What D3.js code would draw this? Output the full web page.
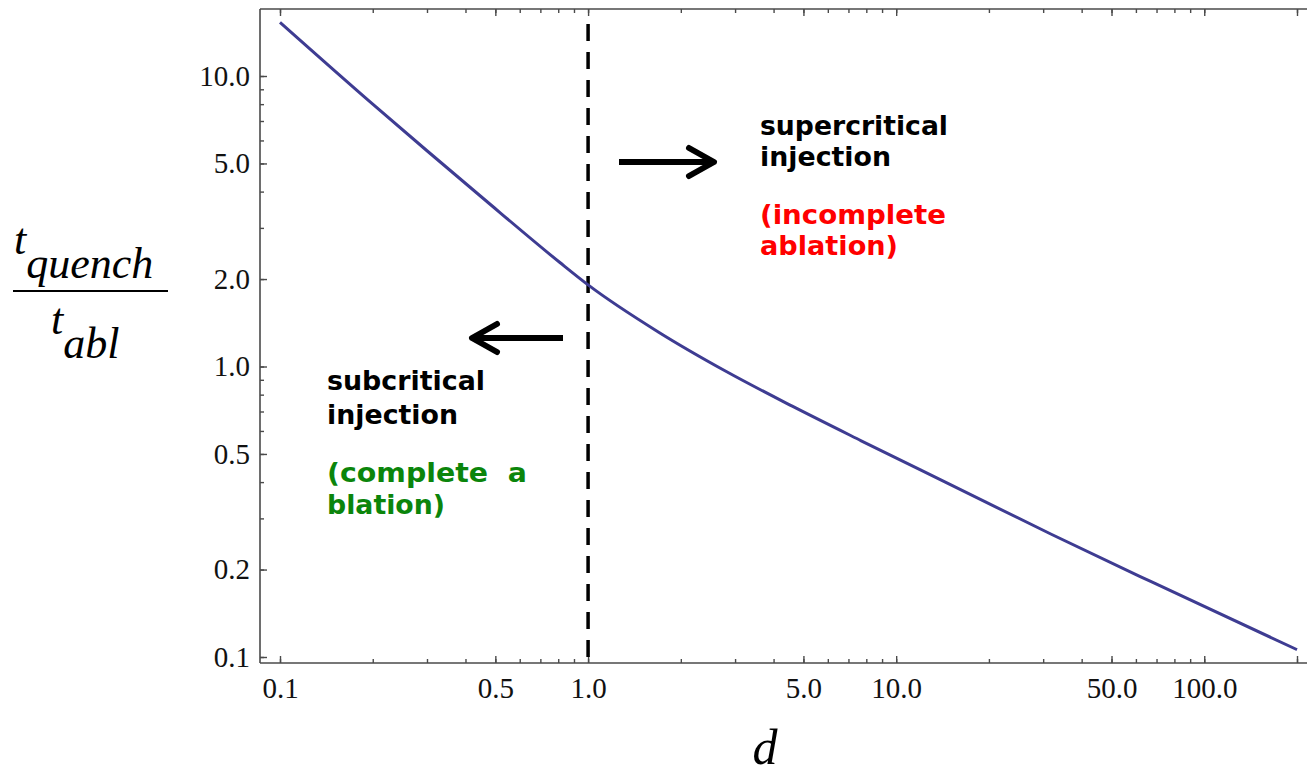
<!DOCTYPE html>
<html lang="en">
	<head>
		<meta charset="UTF-8" />
		<title>t_quench / t_abl vs d</title>
		<style>
			body { margin: 0; background: #fff; }
			svg { display: block; }
		</style>
	</head>
	<body>
		<svg width="1307" height="777" id="svg"></svg>
		<script src="https://cdn.jsdelivr.net/npm/d3@7"></script>
		<script>
			// values
			const dValues = [0.1, 0.2, 0.3, 0.45, 0.81, 1.0, 1.7, 2.8, 4.6, 7.7, 15, 32, 67, 200]
			const ratioValues = [15.3, 8.0, 5.53, 3.84, 2.28, 1.91, 1.31, 0.963, 0.73, 0.555, 0.392, 0.264, 0.182, 0.106]
			const xTickLabels = [0.1, 0.5, 1, 5, 10, 50, 100]
			const yTickLabels = [0.1, 0.2, 0.5, 1, 2, 5, 10]
			const dCritical = 1
			const dashedSpan = [0.1, 16]

			const svg = d3.select("#svg")
			const width = +svg.attr("width")
			const height = +svg.attr("height")

			// frame of the plot area (right edge runs off the picture)
			const frame = { left: 260, top: 9, bottom: 663, right: width + 10 }

			const x = d3.scaleLog().domain([0.1, 200]).range([280, 1297])
			const y = d3.scaleLog().domain([0.1, 10]).range([657, 76])

			// minor ticks: every integer multiple inside each decade
			const minorX = []
			for (let p = -1; p <= 2; p++) {
				for (let m = 1; m <= 9; m++) {
					const v = m * Math.pow(10, p)
					if (v <= 200.0001) minorX.push(+v.toPrecision(3))
				}
			}
			const minorY = []
			for (let p = -1; p <= 1; p++) {
				for (let m = 1; m <= 9; m++) {
					const v = m * Math.pow(10, p)
					if (y(v) >= frame.top) minorY.push(+v.toPrecision(3))
				}
			}

			const fmt = d3.format(".1f")
			const tickFont = "'Liberation Serif', 'Times New Roman', serif"
			const axisColor = "#4a4a4a"

			// frame lines
			const frameG = svg.append("g").attr("stroke", axisColor).attr("stroke-width", 1.6)
			frameG.append("line").attr("x1", frame.left).attr("x2", frame.left).attr("y1", frame.top).attr("y2", frame.bottom)
			frameG.append("line").attr("x1", frame.left).attr("x2", frame.right).attr("y1", frame.bottom).attr("y2", frame.bottom)
			frameG.append("line").attr("x1", frame.left).attr("x2", frame.right).attr("y1", frame.top).attr("y2", frame.top)

			function styleAxis(g) {
				g.select(".domain").remove()
				g.selectAll(".tick line").attr("stroke", axisColor).attr("stroke-width", 1.4)
				g.selectAll(".tick text")
					.attr("fill", "#111")
					.attr("font-family", tickFont)
					.attr("font-size", 29)
			}

			// bottom axis: minor then labelled ticks (inward)
			svg.append("g")
				.attr("transform", `translate(0,${frame.bottom})`)
				.call(d3.axisBottom(x).tickValues(minorX).tickSize(-4).tickSizeOuter(0).tickFormat(""))
				.call(styleAxis)
			svg.append("g")
				.attr("transform", `translate(0,${frame.bottom})`)
				.call(d3.axisBottom(x).tickValues(xTickLabels.concat([200])).tickSize(-7).tickSizeOuter(0).tickPadding(14)
					.tickFormat((d) => (xTickLabels.includes(d) ? fmt(d) : "")))
				.call(styleAxis)

			// top axis: ticks only
			svg.append("g")
				.attr("transform", `translate(0,${frame.top})`)
				.call(d3.axisTop(x).tickValues(minorX).tickSize(-4).tickSizeOuter(0).tickFormat(""))
				.call(styleAxis)
			svg.append("g")
				.attr("transform", `translate(0,${frame.top})`)
				.call(d3.axisTop(x).tickValues(xTickLabels.concat([200])).tickSize(-7).tickSizeOuter(0).tickFormat(""))
				.call(styleAxis)

			// left axis
			svg.append("g")
				.attr("transform", `translate(${frame.left},0)`)
				.call(d3.axisLeft(y).tickValues(minorY).tickSize(-4).tickSizeOuter(0).tickFormat(""))
				.call(styleAxis)
			svg.append("g")
				.attr("transform", `translate(${frame.left},0)`)
				.call(d3.axisLeft(y).tickValues(yTickLabels).tickSize(-7).tickSizeOuter(0).tickPadding(10).tickFormat(fmt))
				.call(styleAxis)

			// critical line
			svg.append("line")
				.attr("x1", x(dCritical))
				.attr("x2", x(dCritical))
				.attr("y1", y(dashedSpan[0]))
				.attr("y2", y(dashedSpan[1]))
				.attr("stroke", "#000")
				.attr("stroke-width", 3.5)
				.attr("stroke-dasharray", "17 11")

			// curve
			const data = dValues.map((d, i) => ({ d, r: ratioValues[i] }))
			const line = d3.line()
				.x((p) => x(p.d))
				.y((p) => y(p.r))
				.curve(d3.curveMonotoneX)
			svg.append("path")
				.datum(data)
				.attr("d", line)
				.attr("fill", "none")
				.attr("stroke", "#3e3c92")
				.attr("stroke-width", 3)

			// arrows
			function arrow(x1, x2, yy) {
				const dir = x2 > x1 ? 1 : -1
				const g = svg.append("g")
					.attr("fill", "none")
					.attr("stroke", "#000")
					.attr("stroke-width", 6)
					.attr("stroke-linecap", "round")
					.attr("stroke-linejoin", "round")
				g.append("line").attr("x1", x1).attr("x2", x2 - dir * 2).attr("y1", yy).attr("y2", yy).attr("stroke-linecap", "butt")
				g.append("path").attr("d", `M${x2 - dir * 25},${yy - 14}L${x2},${yy}L${x2 - dir * 25},${yy + 14}`)
			}
			arrow(619, 714, 162)
			arrow(563, 472, 338)

			// annotations
			const noteFont = "'DejaVu Sans', 'Noto Sans', sans-serif"
			const notes = [
				{ t: "supercritical", x: 760, y: 135, c: "#000", w: 188 },
				{ t: "injection", x: 760, y: 166, c: "#000", w: 131 },
				{ t: "(incomplete", x: 760, y: 224, c: "#ff0000", w: 186 },
				{ t: "ablation)", x: 760, y: 255, c: "#ff0000", w: 138 },
				{ t: "subcritical", x: 327, y: 390, c: "#000", w: 158 },
				{ t: "injection", x: 327, y: 424, c: "#000", w: 131 },
				{ t: "(complete  a", x: 327, y: 482, c: "#0b850b", w: 200 },
				{ t: "blation)", x: 327, y: 514, c: "#0b850b", w: 118 },
			]
			svg.append("g")
				.selectAll("text")
				.data(notes)
				.join("text")
				.attr("x", (d) => d.x)
				.attr("y", (d) => d.y)
				.attr("fill", (d) => d.c)
				.attr("font-family", noteFont)
				.attr("font-weight", "bold")
				.attr("font-size", 27)
				.attr("textLength", (d) => d.w)
				.attr("lengthAdjust", "spacingAndGlyphs")
				.style("white-space", "pre")
				.text((d) => d.t)

			// y label as a fraction
			const serif = "'Liberation Serif', 'Times New Roman', serif"
			const yl = svg.append("g").attr("font-family", serif).attr("font-style", "italic").attr("fill", "#000")
			const num = yl.append("text").attr("x", 14).attr("y", 254).attr("font-size", 44)
			num.append("tspan").text("t")
			num.append("tspan").attr("dy", 24).attr("font-size", 44).text("quench")
			yl.append("line")
				.attr("x1", 13).attr("x2", 168).attr("y1", 291).attr("y2", 291)
				.attr("stroke", "#000").attr("stroke-width", 2)
			const den = yl.append("text").attr("x", 51).attr("y", 334).attr("font-size", 44)
			den.append("tspan").text("t")
			den.append("tspan").attr("dy", 24).attr("font-size", 44).text("abl")

			// x label
			svg.append("text")
				.attr("x", 765)
				.attr("y", 764)
				.attr("text-anchor", "middle")
				.attr("font-family", serif)
				.attr("font-style", "italic")
				.attr("font-size", 50)
				.text("d")
		</script>
	</body>
</html>
